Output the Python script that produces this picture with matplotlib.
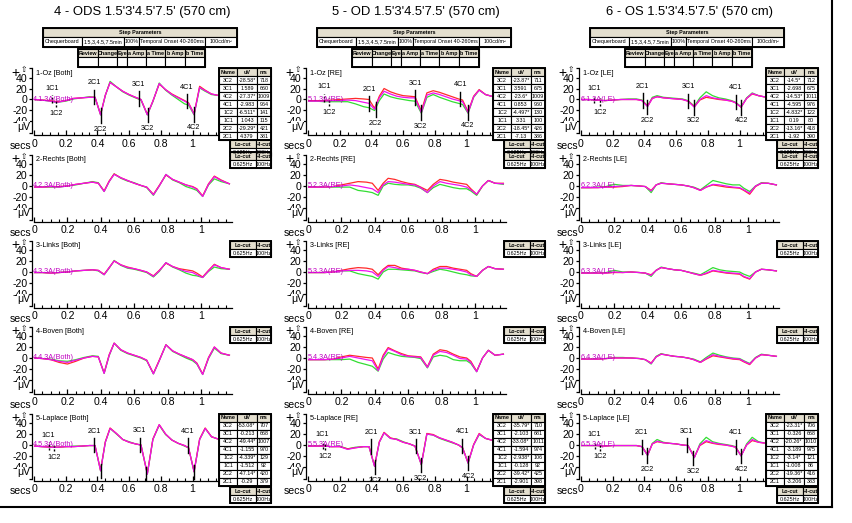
import matplotlib.pyplot as plt
from matplotlib.patches import Rectangle

plt.rcParams['font.family'] = ['Liberation Sans', 'DejaVu Sans']

W, H = 852, 523

secs = [0.0, 0.05, 0.10, 0.15, 0.20, 0.25, 0.30, 0.35, 0.385, 0.42, 0.45, 0.48, 0.52, 0.56, 0.60,
        0.64, 0.675, 0.715, 0.75, 0.79, 0.83, 0.87, 0.91, 0.95, 0.975, 1.01, 1.045, 1.08, 1.12, 1.17]

# ---- 4 - ODS (Both) ----
ods_oz_m = [0, -1, -3, -5, -2, 2, 3, 4, 4, -28, 8, 31, 23, 15, 9, 4, 0, -28, -3, 29, 18, 9, 3, -3, -7, -27, 22, 16, 10, 7]
ods_oz_r = [0, -1, -2, -4, -2, 2, 3, 4, 4, -27, 8, 31, 23, 15, 9, 4, 0, -27, -3, 28, 18, 10, 4, -2, -6, -26, 24, 17, 10, 7]
ods_oz_g = [0, -1, -3, -5, -3, 1, 3, 5, 4, -28, 7, 33, 23, 14, 8, 3, -1, -28, -4, 30, 17, 8, 0, -8, -10, -28, 21, 15, 9, 7]
ods_re_m = [-2, -2, -1, -2, 0, 3, 5, 7, 5, -10, 8, 21, 15, 10, 5, 1, -2, -16, 0, 21, 12, 7, 2, -2, -6, -19, 3, 17, 10, 4]
ods_re_r = [-2, -2, -1, -1, 0, 3, 5, 7, 5, -9, 9, 22, 15, 10, 5, 1, -2, -15, 1, 20, 12, 7, 2, -1, -5, -18, 4, 18, 11, 4]
ods_re_g = [-2, -2, -2, -2, 0, 2, 5, 8, 6, -10, 8, 22, 14, 9, 6, 1, -3, -17, 0, 21, 11, 6, -1, -5, -8, -19, 2, 13, 8, 4]
ods_li_m = [-1, -1, -2, -1, 0, 2, 3, 4, 3, -5, 8, 20, 13, 8, 6, 3, 0, -8, 2, 17, 10, 5, 1, -1, -5, -10, 2, 13, 8, 5]
ods_li_r = [-1, -1, -2, -1, 0, 2, 3, 4, 3, -4, 8, 20, 13, 9, 6, 3, 0, -7, 3, 16, 10, 6, 4, 2, -2, -9, 3, 14, 8, 5]
ods_li_g = [-1, -1, -2, -1, 0, 2, 3, 4, 2, -5, 7, 21, 12, 7, 5, 2, -1, -9, 1, 17, 9, 4, -2, -6, -7, -10, 1, 9, 6, 5]
ods_bo_m = [0, -1, -3, -6, -8, -4, 0, 3, 2, -28, 5, 27, 15, 9, 5, 1, -4, -29, -5, 24, 13, 7, 2, -3, -10, -30, 0, 20, 9, 5]
ods_bo_r = [0, -1, -3, -8, -11, -6, 0, 3, 2, -27, 6, 27, 15, 9, 5, 1, -4, -28, -4, 24, 13, 7, 2, -3, -9, -29, 1, 20, 9, 5]
ods_bo_g = [0, -1, -2, -5, -6, -3, 1, 4, 3, -28, 4, 27, 14, 8, 4, 0, -5, -29, -5, 24, 12, 6, 0, -5, -11, -30, -1, 18, 8, 5]
ods_la_m = [-2, -3, -4, -4, -3, -3, -2, -1, -1, -47, 5, 30, 21, 10, 5, 2, 0, -53, 10, 37, 20, 9, 3, -1, -5, -49, 10, 30, 15, 10]
ods_la_r = [-2, -3, -4, -4, -3, -3, -2, -1, -1, -46, 6, 31, 21, 10, 5, 2, 0, -52, 11, 37, 20, 9, 3, -1, -5, -48, 11, 31, 15, 10]
ods_la_g = [-2, -3, -3, -4, -3, -2, -2, -1, -1, -47, 5, 30, 20, 10, 6, 2, 0, -53, 10, 36, 19, 9, 3, -2, -5, -49, 10, 30, 15, 10]

# ---- 5 - OD (RE) ----
od_oz_m = [-3, -3, -3, -2, -2, -1, -2, -5, -7, -18, 3, 15, 10, 6, 4, 3, 3, -24, 8, 12, 9, 5, 1, -2, -4, -24, 5, 17, 9, 5]
od_oz_r = [-2, -2, -2, -1, 0, 1, 2, 1, 0, -16, 6, 20, 14, 10, 7, 6, 5, -21, 12, 16, 13, 9, 5, 1, -1, -22, 6, 18, 9, 5]
od_oz_g = [-3, -3, -4, -4, -4, -4, -8, -13, -15, -20, -2, 10, 5, 2, 0, -2, -3, -25, 4, 9, 4, 0, -4, -7, -9, -25, 4, 17, 9, 5]
od_re_m = [-2, -2, -2, -1, 0, 2, 0, -3, -5, -12, 2, 8, 7, 5, 3, 2, -3, -12, 0, 8, 5, 3, 1, -2, -7, -15, 0, 10, 5, 4]
od_re_r = [-2, -2, -2, -1, 2, 5, 8, 7, 5, -8, 5, 14, 12, 8, 5, 3, -2, -8, 3, 12, 10, 7, 5, 3, -5, -15, 0, 10, 5, 5]
od_re_g = [-2, -2, -2, -2, -2, -2, -8, -10, -12, -17, 0, 5, 3, 2, 2, 0, -4, -12, -3, 3, 0, -3, -5, -5, -9, -17, 0, 10, 5, 3]
od_li_m = [-1, -1, -1, 0, 2, 3, 3, 2, 0, -8, 3, 10, 8, 5, 5, 3, 0, -3, 3, 7, 7, 5, 3, 0, -5, -8, 3, 10, 6, 5]
od_li_r = [-1, -1, -1, 0, 3, 6, 8, 7, 5, -5, 5, 12, 12, 7, 5, 3, 0, -3, 5, 10, 10, 7, 5, 3, -3, -8, 3, 10, 6, 5]
od_li_g = [-1, -1, -1, 0, 2, 2, -3, -6, -8, -13, 0, 5, 5, 4, 3, 2, -1, -3, 1, 5, 3, 0, -3, -5, -7, -8, 3, 10, 6, 5]
od_bo_m = [-3, -3, -3, -2, 0, 3, 0, -3, -5, -23, 2, 17, 12, 6, 3, 2, 1, -17, 5, 12, 10, 5, -1, -2, -8, -25, 0, 14, 5, 7]
od_bo_r = [-3, -3, -3, -2, 2, 5, 3, 1, 0, -20, 5, 19, 13, 8, 4, 3, 2, -16, 7, 15, 13, 7, 2, 0, -6, -24, 0, 14, 5, 7]
od_bo_g = [-3, -3, -3, -3, -3, -2, -8, -12, -15, -24, -2, 10, 6, 3, 2, 1, -1, -18, 2, 5, 3, -3, -5, -5, -10, -25, 0, 14, 5, 7]
od_la_m = [-2, -2, -2, -3, -3, -8, -5, -3, -3, -39, 5, 22, 12, 10, 5, 2, -2, -36, 20, 18, 13, 9, 5, 0, -5, -33, 0, 20, 12, 8]
od_la_r = [-2, -2, -2, -3, -3, -7, -5, -3, -3, -38, 6, 23, 13, 10, 5, 2, -2, -35, 21, 19, 13, 9, 5, 0, -5, -32, 1, 21, 12, 8]
od_la_g = [-2, -2, -2, -3, -2, -7, -4, -3, -3, -39, 5, 22, 12, 11, 6, 2, -2, -36, 20, 18, 12, 8, 4, 0, -5, -33, 0, 19, 12, 8]

# ---- 6 - OS (LE) ----
os_oz_m = [0, 0, -1, -2, -1, 0, 0, 0, -2, -13, 2, 5, 3, 2, 1, 0, -3, -14, 0, 7, 3, 1, -1, -3, -6, -14, 2, 11, 7, 4]
os_oz_r = [0, 0, -1, -2, -1, 0, 0, 0, -2, -12, 2, 5, 3, 2, 1, 0, -3, -13, -1, 4, 2, 0, -1, -3, -6, -14, 2, 10, 7, 4]
os_oz_g = [0, 0, -1, -2, -1, 0, 1, 1, -1, -12, 4, 7, 4, 3, 2, 1, -2, -12, 3, 14, 7, 3, 1, -2, -5, -13, 3, 12, 7, 4]
os_re_m = [-3, -3, -3, -2, -1, 0, 1, 0, -1, -9, 2, 5, 4, 3, 2, 0, -3, -8, -2, 3, 2, 0, -2, -3, -7, -13, 0, 5, 5, 2]
os_re_r = [-3, -3, -3, -2, -2, -1, 1, 0, -1, -8, 2, 5, 4, 3, 2, 0, -3, -8, -2, 2, 0, -2, -3, -4, -8, -15, -1, 5, 5, 2]
os_re_g = [-3, -3, -2, -1, 3, 1, 1, 0, -1, -12, 2, 6, 4, 3, 2, 0, -2, -7, 1, 10, 7, 4, 2, 2, -4, -10, 0, 6, 5, 2]
os_li_m = [-2, -2, -2, -2, 0, -1, 0, -1, -2, -6, 3, 8, 6, 4, 3, 0, -3, -6, -2, 3, 1, -1, -2, -3, -8, -12, 0, 5, 4, 2]
os_li_r = [-2, -2, -2, -2, -1, -1, 0, -1, -2, -5, 3, 8, 6, 4, 3, 0, -3, -6, -3, 2, 0, -2, -3, -4, -9, -13, 0, 5, 4, 2]
os_li_g = [-2, -2, -2, -1, 3, 0, 0, -1, -2, -8, 3, 9, 6, 4, 3, 0, -2, -5, 1, 8, 4, 2, 1, 0, -4, -8, 0, 5, 4, 2]
os_bo_m = [-2, -2, -2, -1, 0, 0, 0, -1, -3, -10, 2, 7, 5, 3, 2, 0, -3, -8, -1, 6, 3, 1, -1, -2, -6, -11, 0, 6, 5, 3]
os_bo_r = [-2, -2, -2, -1, 0, 0, 0, -1, -3, -9, 2, 7, 5, 3, 2, 0, -3, -8, -2, 4, 2, 0, -2, -3, -7, -12, 0, 6, 5, 3]
os_bo_g = [-2, -2, -2, -1, 1, 1, 0, -1, -3, -11, 3, 8, 5, 3, 2, 0, -2, -7, 1, 9, 5, 2, 0, -1, -5, -10, 1, 7, 5, 3]
os_la_m = [-1, -1, -1, -2, -1, -1, -1, -1, -3, -19, 2, 7, 4, 3, 2, 0, -1, -23, 0, 8, 4, 2, 0, -2, -4, -20, 0, 10, 5, 3]
os_la_r = [-1, -1, -1, -2, -1, -1, -1, -1, -3, -18, 2, 6, 4, 3, 2, 0, -1, -22, -1, 6, 3, 1, 0, -2, -4, -19, 0, 8, 5, 3]
os_la_g = [-1, -1, -1, -2, -1, -1, -1, -1, -3, -19, 3, 10, 5, 3, 2, 0, -1, -23, 2, 14, 6, 3, 1, -1, -3, -20, 2, 14, 6, 3]

# ---- peak tables ----
peak_names = ['3C2', '3C1', '4C2', '4C1', '1C2', '1C1', '2C2', '2C1']
ods_oz_uv = ['-28.58*', '1.589', '-27.37*', '-2.983', '-6.511*', '1.043', '-29.29*', '4.379']
ods_oz_ms = [718, 660, 1009, 964, 141, 115, 421, 381]
ods_la_uv = ['-53.08*', '-0.213', '-49.44*', '-1.155', '-4.339*', '-1.512', '-47.14*', '-0.29']
ods_la_ms = [707, 668, 1007, 970, 129, 92, 420, 379]
od_oz_uv = ['-23.87*', '3.591', '-23.6*', '0.853', '-4.497*', '3.31', '-18.45*', '-7.13']
od_oz_ms = [711, 675, 1009, 960, 130, 100, 426, 386]
od_la_uv = ['-35.79*', '-2.103', '-33.08*', '-1.594', '-2.938*', '-0.128', '-39.42*', '-2.901']
od_la_ms = [710, 681, 1011, 974, 106, 92, 425, 398]
os_oz_uv = ['-14.5*', '-2.698', '-14.53*', '-4.595', '-4.832*', '0.19', '-13.16*', '-1.92']
os_oz_ms = [712, 675, 1011, 976, 122, 80, 418, 390]
os_la_uv = ['-23.31*', '-0.326', '-20.26*', '-3.189', '-3.14*', '-1.008', '-19.36*', '-3.206']
os_la_ms = [706, 668, 1010, 975, 121, 86, 416, 383]

titles = ["4 - ODS 1.5'3'4.5'7.5' (570 cm)", "5 - OD 1.5'3'4.5'7.5' (570 cm)", "6 - OS 1.5'3'4.5'7.5' (570 cm)"]
test_ids = ['4', '5', '6']
eyes = ['Both', 'RE', 'LE']
channels = ['1-Oz', '2-Rechts', '3-Links', '4-Boven', '5-Laplace']
step_hdr = ['Chequerboard', '1.5,3,4.5,7.5min', '100%', 'Temporal Onset 40-260ms', '100cd/m²']
review_hdr = ['Review', 'Change', 'Eye', 'a Amp', 'a Time', 'b Amp', 'b Time']
filt_hdr = ['Lo-cut', 'Hi-cut']
filt_val = ['0.625Hz', '100Hz']
xtick_vals = [0, 0.2, 0.4, 0.6, 0.8, 1.0]
xtick_lbls = ['0', '0.2', '0.4', '0.6', '0.8', '1']
ytick_vals = [-40, -20, 0, 20, 40]

traces = [
    [(ods_oz_m, ods_oz_r, ods_oz_g), (ods_re_m, ods_re_r, ods_re_g), (ods_li_m, ods_li_r, ods_li_g),
     (ods_bo_m, ods_bo_r, ods_bo_g), (ods_la_m, ods_la_r, ods_la_g)],
    [(od_oz_m, od_oz_r, od_oz_g), (od_re_m, od_re_r, od_re_g), (od_li_m, od_li_r, od_li_g),
     (od_bo_m, od_bo_r, od_bo_g), (od_la_m, od_la_r, od_la_g)],
    [(os_oz_m, os_oz_r, os_oz_g), (os_re_m, os_re_r, os_re_g), (os_li_m, os_li_r, os_li_g),
     (os_bo_m, os_bo_r, os_bo_g), (os_la_m, os_la_r, os_la_g)],
]
peaks = [
    {0: (ods_oz_uv, ods_oz_ms), 4: (ods_la_uv, ods_la_ms)},
    {0: (od_oz_uv, od_oz_ms), 4: (od_la_uv, od_la_ms)},
    {0: (os_oz_uv, os_oz_ms), 4: (os_la_uv, os_la_ms)},
]

MAG, RED, GRN = '#f010f0', '#ff2a2a', '#33dd33'
BEIGE = '#e4dfcf'
TICK_FS = 7.6
SMALL_FS = 5.2
TAB_FS = 3.9

fig = plt.figure(figsize=(W / 100, H / 100), dpi=100)
fig.patch.set_facecolor('white')

# overlay in pixel coordinates for tables and loose text
ov = fig.add_axes([0, 0, 1, 1], zorder=10)
ov.set_xlim(0, W)
ov.set_ylim(H, 0)
ov.axis('off')


def table(x, y, widths, heights, rows, shaded, bold):
    yy = y
    for r, row in enumerate(rows):
        if isinstance(row, str):
            cells, ws = [row], [sum(widths)]
        else:
            cells, ws = row, widths
        xx = x
        for txt, w in zip(cells, ws):
            ov.add_patch(Rectangle((xx, yy), w, heights[r], fc=BEIGE if r in shaded else 'white',
                                   ec='black', lw=0.8))
            ov.text(xx + w / 2, yy + heights[r] / 2 + 0.3, txt, ha='center', va='center',
                    fontsize=TAB_FS, fontweight='bold' if r in bold else 'normal')
            xx += w
        yy += heights[r]
    ov.add_patch(Rectangle((x, y), sum(widths), yy - y, fc='none', ec='black', lw=1.4))


X0 = [34, 308, 581]
YB = [135.5, 222, 308, 394, 481]
FILT_Y = [140, 152, 241, 327, 487]
AX_H = 67
YLIM = (-65.5, 56.4)

for c in range(3):
    x0 = X0[c]
    ov.text(x0 + 108, 12, titles[c], ha='center', va='center', fontsize=9.4)
    table(x0 + 9, 28, [39, 42, 15, 66, 32], [8.5, 10], ['Step Parameters', step_hdr], {0}, {0})
    table(x0 + 44, 49, [20, 19, 10, 19, 19, 20, 20], [8, 9.5], [review_hdr, [''] * 7], {0}, {0})

    for r in range(5):
        yb = YB[r]
        if r in (0, 4):
            pps, xmax = 158.5, 1.16
        else:
            pps, xmax = 167.0, 1.185
        ax = fig.add_axes([x0 / W, 1 - yb / H, xmax * pps / W, AX_H / H])
        ax.set_xlim(0, xmax)
        ax.set_ylim(*YLIM)
        ax.patch.set_alpha(0)
        for s in ('top', 'right'):
            ax.spines[s].set_visible(False)
        ax.spines['left'].set_position(('outward', 1.5))
        ax.spines['left'].set_bounds(-61, YLIM[1])
        ax.spines['left'].set_linewidth(0.9)
        ax.spines['bottom'].set_linewidth(0.9)
        ax.set_xticks(xtick_vals)
        ax.set_xticklabels(xtick_lbls)
        ax.set_xticks([i * 0.05 for i in range(24) if i * 0.05 <= xmax], minor=True)
        ax.tick_params(axis='x', which='major', direction='in', length=3.5, width=0.9,
                       pad=2.5, labelsize=TICK_FS)
        ax.tick_params(axis='x', which='minor', direction='in', length=2, width=0.8)
        ax.set_yticks(ytick_vals)
        ax.set_yticklabels([str(v) for v in ytick_vals])
        ax.set_yticks([-61, YLIM[1]], minor=True)
        ax.tick_params(axis='y', which='both', direction='out', length=2.5, width=0.9,
                       pad=0.6, labelsize=TICK_FS)

        m, rd, g = traces[c][r]
        ax.plot(secs, g, color=GRN, lw=0.9)
        ax.plot(secs, rd, color=RED, lw=0.9)
        ax.plot(secs, m, color=MAG, lw=0.9)

        ax.text(0.012, YLIM[1] - 2, f'{channels[r]} [{eyes[c]}]', fontsize=SMALL_FS,
                ha='left', va='top')
        ax.text(-0.004, 0, f'{test_ids[c]}.{r + 1}.3A({eyes[c]})', fontsize=SMALL_FS,
                ha='left', va='center', color='#c000c0')

        if r in peaks[c]:
            uvs, mss = peaks[c][r]
            for name, uv, ms in zip(peak_names, uvs, mss):
                v = float(uv.rstrip('*'))
                t = ms / 1000.0
                half = 7 if name[0] == '1' else 13
                ls = (0, (1.5, 1.2)) if name[0] == '1' else '-'
                ax.plot([t, t], [v - half, v + half], color='black', lw=1.0, ls=ls)
                if name.endswith('1'):
                    ax.annotate(name, (t, v + half), xytext=(0, 2.5), textcoords='offset points',
                                ha='center', va='bottom', fontsize=SMALL_FS, clip_on=True)
                else:
                    ax.annotate(name, (t, v - half), xytext=(0, -2), textcoords='offset points',
                                ha='center', va='top', fontsize=SMALL_FS, clip_on=True)
            rows = [['Name', 'uV', 'ms']] + [[n, u, str(s)] for n, u, s in zip(peak_names, uvs, mss)]
            table(x0 + 185, yb - 67.5, [18, 20, 14], [8] * 9, rows, {0}, {0})

        table(x0 + 196, FILT_Y[r], [26, 15], [8, 8], [filt_hdr, filt_val], {0}, {0})

        top = yb - AX_H
        ov.text(x0 - 2.5, yb + 10.5, 'secs', ha='right', va='center', fontsize=TICK_FS)
        ov.text(x0 - 4, yb - 9, 'μV', ha='right', va='center', fontsize=TICK_FS,
                bbox=dict(fc='white', ec='none', pad=0.2))
        ov.text(x0 - 19, top + 4, '+', ha='center', va='center', fontsize=10)
        ov.text(x0 - 10, top + 2.5, '⇧', ha='center', va='center', fontsize=5.5)

# outer frame
ov.plot([832, 832], [0, 507], color='black', lw=1.5)
ov.plot([0, 832], [507, 507], color='black', lw=1.5)

fig.savefig('out.png', dpi=100)
